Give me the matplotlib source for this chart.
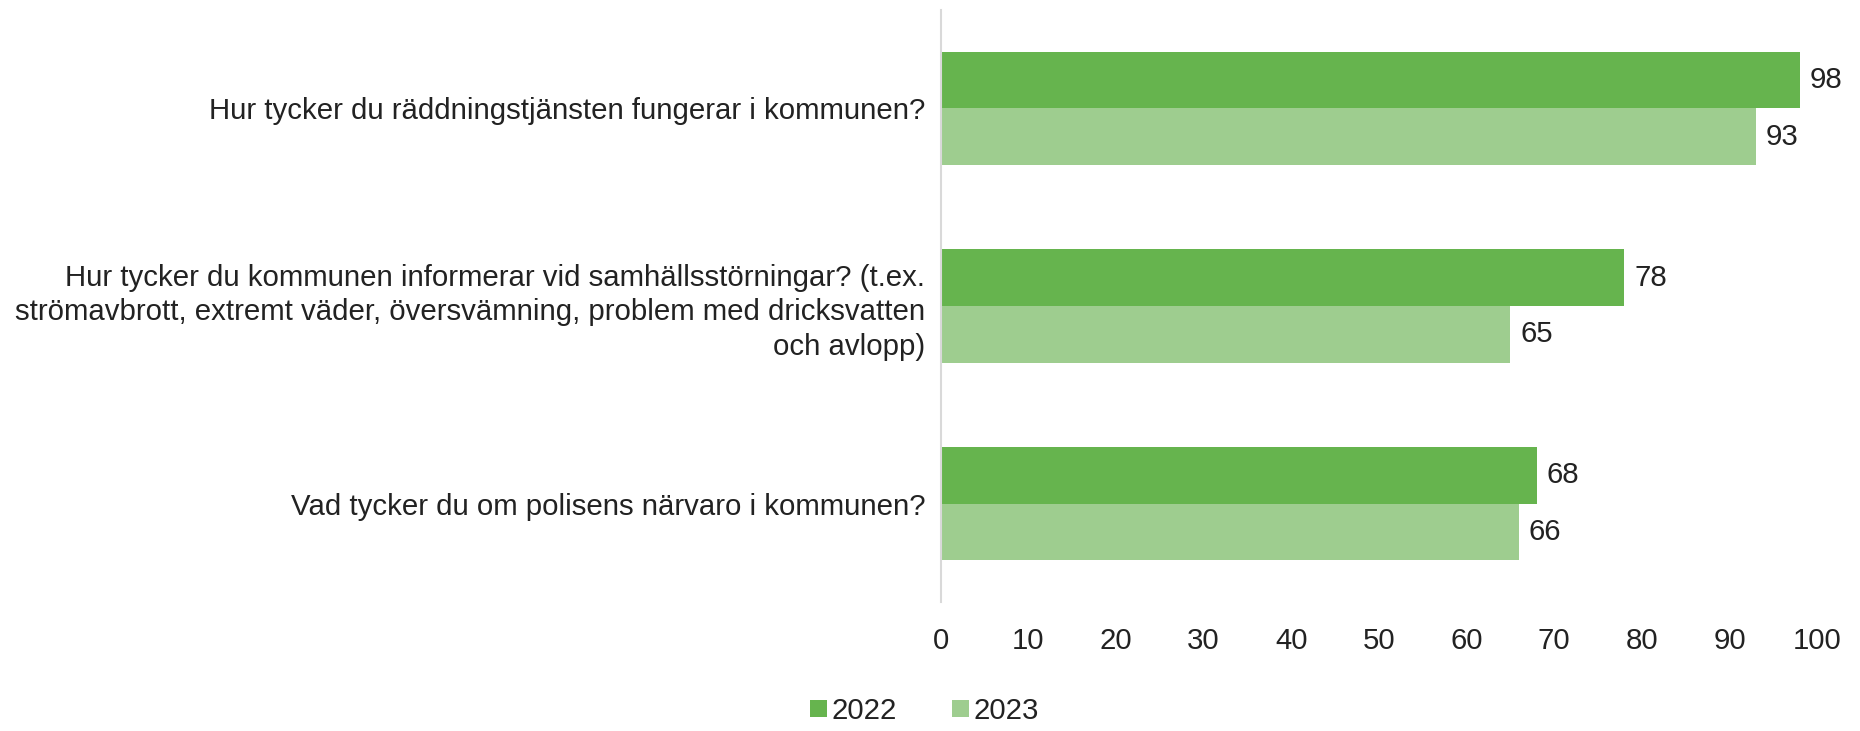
import matplotlib.pyplot as plt
import numpy as np
from matplotlib.transforms import ScaledTranslation

plt.rcParams['font.family'] = ['Liberation Sans', 'DejaVu Sans']

questions = [
    'Hur tycker du räddningstjänsten fungerar i kommunen?',
    'Hur tycker du kommunen informerar vid samhällsstörningar? (t.ex.\n'
    'strömavbrott, extremt väder, översvämning, problem med dricksvatten\n'
    'och avlopp)',
    'Vad tycker du om polisens närvaro i kommunen?',
]
years = ['2022', '2023']
values_2022 = [98, 78, 68]
values_2023 = [93, 65, 66]
colors = ['#66b44e', '#9ecd8f']

fig = plt.figure(figsize=(18.6, 7.31), dpi=100)
ax = fig.add_axes([0.5057, 0.176, 0.4713, 0.811])

y = np.arange(len(questions))
h = 0.287
bars_a = ax.barh(y - h / 2, values_2022, height=h, color=colors[0], label=years[0])
bars_b = ax.barh(y + h / 2, values_2023, height=h, color=colors[1], label=years[1])

# value labels, nudged a little below the bar centre
shift = ScaledTranslation(0, -3 / 72, fig.dpi_scale_trans)
for bars in (bars_a, bars_b):
    for t in ax.bar_label(bars, padding=7, fontsize=21.2, color='#222222'):
        t.set_transform(t.get_transform() + shift)

ax.set_xlim(0, 100)
ax.set_ylim(2.5, -0.5)
ax.set_xticks(range(0, 101, 10))
ax.set_yticks(y)
ax.set_yticklabels(questions, ha='right', multialignment='right', linespacing=1.3)
ax.tick_params(axis='both', length=0, labelsize=21.2, colors='#222222')
ax.tick_params(axis='y', pad=11)
ax.tick_params(axis='x', pad=18)

for side in ['top', 'right', 'bottom']:
    ax.spines[side].set_visible(False)
ax.spines['left'].set_color('#d9d9d9')
ax.spines['left'].set_linewidth(1.5)

fig.legend(loc='lower center', bbox_to_anchor=(0.497, -0.028), ncol=2, frameon=False,
           fontsize=21.2, handlelength=0.55, handleheight=0.55, handletextpad=0.15,
           columnspacing=1.9, labelcolor='#222222')

fig.savefig('out.png', dpi=100)
